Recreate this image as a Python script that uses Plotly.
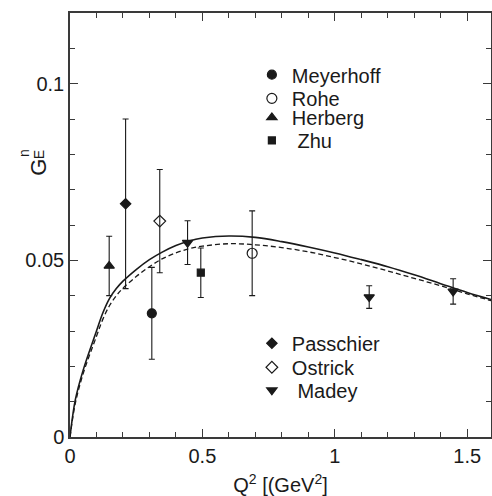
import plotly.graph_objects as go

# ---- data ----
curve_q2 = [0, 0.02, 0.05, 0.1, 0.125, 0.15, 0.175, 0.2, 0.25, 0.3, 0.35, 0.4, 0.45, 0.5,
            0.6, 0.7, 0.8, 0.9, 1.0, 1.1, 1.2, 1.3, 1.4, 1.5, 1.6]
solid_ge = [0, 0.0105, 0.019, 0.030, 0.0353, 0.0393, 0.0420, 0.0441, 0.0474, 0.0502, 0.0524,
            0.0542, 0.0555, 0.0563, 0.0569, 0.0565, 0.0553, 0.0538, 0.0521,
            0.0502, 0.0482, 0.0459, 0.0434, 0.0409, 0.0387]
dashed_ge = [0, 0.0095, 0.018, 0.0285, 0.0335, 0.0373, 0.0400, 0.0421, 0.0454, 0.0482, 0.0505,
             0.0521, 0.0533, 0.0540, 0.0547, 0.0544, 0.0536, 0.0524, 0.0508,
             0.0490, 0.0470, 0.0449, 0.0428, 0.0405, 0.0384]

meyerhoff_q2 = [0.309]; meyerhoff_ge = [0.035]; meyerhoff_err = [0.013]
rohe_q2 = [0.688]; rohe_ge = [0.052]; rohe_err = [0.012]
herberg_q2 = [0.148]; herberg_ge = [0.0484]; herberg_err = [0.0084]
zhu_q2 = [0.494]; zhu_ge = [0.0465]; zhu_err = [0.007]
passchier_q2 = [0.210]; passchier_ge = [0.066]; passchier_err = [0.024]
ostrick_q2 = [0.339]; ostrick_ge = [0.0611]; ostrick_err = [0.0146]
madey_q2 = [0.444, 1.130, 1.447]; madey_ge = [0.055, 0.0396, 0.0412]
madey_err = [0.0062, 0.0032, 0.0036]

x_ticks = [0, 0.5, 1, 1.5]
x_tick_labels = ["0", "0.5", "1", "1.5"]
y_ticks = [0, 0.05, 0.1]
y_tick_labels = ["0", "0.05", "0.1"]

FONT = "Liberation Sans, Arial, Helvetica, sans-serif"
INK = "#1a1a1a"

fig = go.Figure()
fig.add_trace(go.Scatter(x=curve_q2, y=solid_ge, mode="lines", line_shape="spline",
                         line=dict(color=INK, width=1.6), showlegend=False))
fig.add_trace(go.Scatter(x=curve_q2, y=dashed_ge, mode="lines", line_shape="spline",
                         line=dict(color=INK, width=1.3, dash="5px,3px"), showlegend=False))

series = [
    ("Meyerhoff", meyerhoff_q2, meyerhoff_ge, meyerhoff_err, "circle", 9, "legend", 0.1023),
    ("Rohe", rohe_q2, rohe_ge, rohe_err, "circle-open", 10, "legend2", 0.0956),
    ("Herberg", herberg_q2, herberg_ge, herberg_err, "triangle-up", 9, "legend3", 0.0902),
    (" Zhu", zhu_q2, zhu_ge, zhu_err, "square", 7, "legend4", 0.0837),
    ("Passchier", passchier_q2, passchier_ge, passchier_err, "diamond", 8, "legend5", 0.0263),
    ("Ostrick", ostrick_q2, ostrick_ge, ostrick_err, "diamond-open", 9, "legend6", 0.0195),
    (" Madey", madey_q2, madey_ge, madey_err, "triangle-down", 9, "legend7", 0.0130),
]

legend_layouts = {}
for name, xs, ys, es, sym, sz, lg, ly in series:
    fig.add_trace(go.Scatter(
        x=xs, y=ys, mode="markers", name=name, legend=lg,
        marker=dict(symbol=sym, size=sz, color=INK, line=dict(color=INK, width=1.2)),
        error_y=dict(type="data", array=es, visible=True, color=INK, thickness=1.1, width=3),
    ))
    legend_layouts[lg] = dict(
        x=0.432, y=ly / 0.12 + 0.002, xanchor="left", yanchor="middle",
        bgcolor="rgba(0,0,0,0)", borderwidth=0,
        font=dict(family=FONT, size=20, color=INK),
        itemsizing="trace",
    )

axis_common = dict(
    showline=True, linecolor="#3a3a3a", linewidth=1.5, mirror="ticks",
    ticks="inside", tickcolor="#3a3a3a", tickwidth=1.2, ticklen=8,
    showgrid=False, zeroline=False,
    tickfont=dict(family=FONT, size=20, color=INK),
)

fig.update_layout(
    width=492, height=496,
    margin=dict(l=70, r=1, t=13, b=59),
    plot_bgcolor="white", paper_bgcolor="white",
    xaxis=dict(range=[0, 1.59], tickvals=x_ticks, ticktext=x_tick_labels, automargin=False,
               minor=dict(dtick=0.1, ticks="inside", ticklen=5, tickcolor="#3a3a3a", tickwidth=1.2),
               title=dict(text="Q<sup>2</sup> [(GeV<sup>2</sup>]", standoff=18,
                          font=dict(family=FONT, size=20, color=INK)),
               **axis_common),
    yaxis=dict(range=[0, 0.12], tickvals=y_ticks, ticktext=y_tick_labels, automargin=False,
               minor=dict(dtick=0.01, ticks="inside", ticklen=5, tickcolor="#3a3a3a", tickwidth=1.2),
               **axis_common),
    annotations=[
        dict(text="G", xref="paper", yref="paper", x=-0.108, y=0.635, textangle=-90,
             showarrow=False, font=dict(family=FONT, size=22, color=INK)),
        dict(text="E", xref="paper", yref="paper", x=-0.097, y=0.680, textangle=-90,
             showarrow=False, font=dict(family=FONT, size=14, color=INK)),
        dict(text="n", xref="paper", yref="paper", x=-0.133, y=0.684, textangle=-90,
             showarrow=False, font=dict(family=FONT, size=14, color=INK)),
    ],
    **legend_layouts,
)

fig.write_html("out.html")
